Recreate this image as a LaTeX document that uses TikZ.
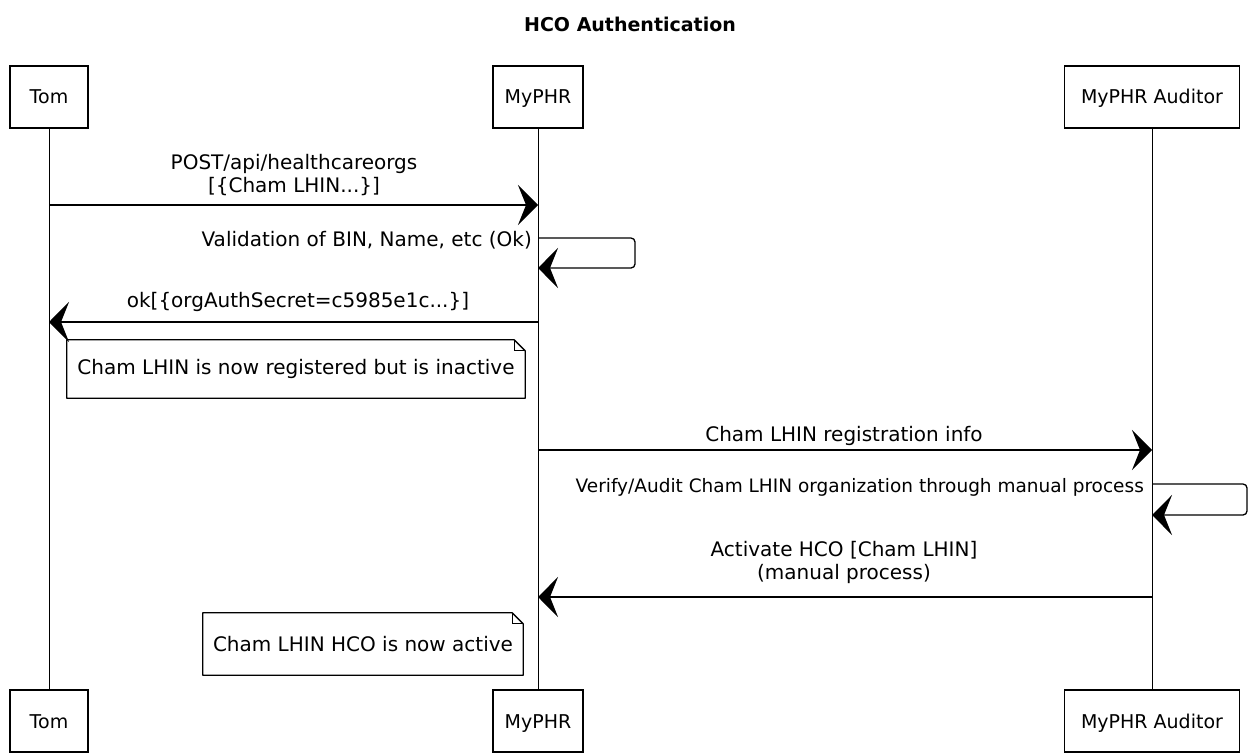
\documentclass[tikz,border=0pt]{standalone}
\usepackage{fontspec}
\setmainfont{DejaVu Sans}
\usetikzlibrary{arrows.meta,calc}
\begin{document}
\begin{tikzpicture}[x=1pt,y=-1pt,
  actor/.style={draw, line width=1.3pt, minimum height=62pt, inner sep=0pt,
    text height=14pt, text depth=0pt, font=\fontsize{19}{22}\selectfont},
  lifeline/.style={line width=0.8pt},
  msg/.style={line width=1.3pt, -{Stealth[length=20pt,width=40pt,inset=8pt]}},
  lbl/.style={font=\fontsize{20}{23}\selectfont, align=center, inner sep=1pt},
  notetext/.style={font=\fontsize{20}{23}\selectfont, inner sep=0pt},
  noteline/.style={line width=1.3pt, line join=round}
]
\useasboundingbox (0,0) rectangle (1250,754);

% title
\node[font=\bfseries\fontsize{19}{22}\selectfont] (title) at (630,24) {HCO Authentication};

% participants, top and bottom
\node[actor, minimum width=78pt]  (tomT) at (49,97)   {Tom};
\node[actor, minimum width=90pt]  (phrT) at (538,97)  {MyPHR};
\node[actor, minimum width=175pt] (audT) at (1152,97) {MyPHR Auditor};
\node[actor, minimum width=78pt]  (tomB) at (49,721)  {Tom};
\node[actor, minimum width=90pt]  (phrB) at (538,721) {MyPHR};
\node[actor, minimum width=175pt] (audB) at (1152,721) {MyPHR Auditor};

% lifelines
\draw[lifeline] (tomT) -- (tomB);
\draw[lifeline] (phrT) -- (phrB);
\draw[lifeline] (audT) -- (audB);

% message end points on the lifelines
\coordinate (m1a) at (tomT |- 0,205);
\coordinate (m1b) at (phrT |- 0,205);
\coordinate (s1a) at (phrT |- 0,238);
\coordinate (s1b) at (phrT |- 0,268);
\coordinate (m2a) at (phrT |- 0,322);
\coordinate (m2b) at (tomT |- 0,322);
\coordinate (m3a) at (phrT |- 0,450);
\coordinate (m3b) at (audT |- 0,450);
\coordinate (s2a) at (audT |- 0,484);
\coordinate (s2b) at (audT |- 0,515);
\coordinate (m4a) at (audT |- 0,597);
\coordinate (m4b) at (phrT |- 0,597);

% Tom -> MyPHR
\draw[msg] (m1a) -- (m1b);
\node[lbl] (l1) at (294,175) {POST/api/healthcareorgs\\{}{[}\{Cham LHIN...\}{]}};

% MyPHR self validation
\draw[msg, rounded corners=4pt] (s1a) -- ++(97,0) |- (s1b);
\node[lbl, anchor=east] (l2) at (533,240) {Validation of BIN, Name, etc (Ok)};

% MyPHR -> Tom
\draw[msg] (m2a) -- (m2b);
\node[lbl] (l3) at (298,302) {ok{[}\{orgAuthSecret=c5985e1c...\}{]}};

% note: registered but inactive
\node[notetext, minimum width=458pt, minimum height=58pt] (n1) at (296,369)
  {Cham LHIN is now registered but is inactive};
\draw[noteline] (n1.north west) -- ($(n1.north east)+(-11,0)$) -- ($(n1.north east)+(0,11)$)
  -- (n1.south east) -- (n1.south west) -- cycle;
\draw[line width=0.8pt] ($(n1.north east)+(-11,0)$) -- ($(n1.north east)+(-11,11)$) -- ($(n1.north east)+(0,11)$);

% MyPHR -> Auditor
\draw[msg] (m3a) -- (m3b);
\node[lbl] (l4) at (844,436) {Cham LHIN registration info};

% Auditor self verification
\draw[msg, rounded corners=4pt] (s2a) -- ++(95,0) |- (s2b);
\node[lbl, anchor=east, font=\fontsize{18.5}{22}\selectfont] (l5) at (1145,487)
  {Verify/Audit Cham LHIN organization through manual process};

% Auditor -> MyPHR
\draw[msg] (m4a) -- (m4b);
\node[lbl] (l6) at (844,562) {Activate HCO {[}Cham LHIN{]}\\(manual process)};

% note: now active
\node[notetext, minimum width=320pt, minimum height=62pt] (n2) at (363,644)
  {Cham LHIN HCO is now active};
\draw[noteline] (n2.north west) -- ($(n2.north east)+(-11,0)$) -- ($(n2.north east)+(0,11)$)
  -- (n2.south east) -- (n2.south west) -- cycle;
\draw[line width=0.8pt] ($(n2.north east)+(-11,0)$) -- ($(n2.north east)+(-11,11)$) -- ($(n2.north east)+(0,11)$);
\end{tikzpicture}
\end{document}
